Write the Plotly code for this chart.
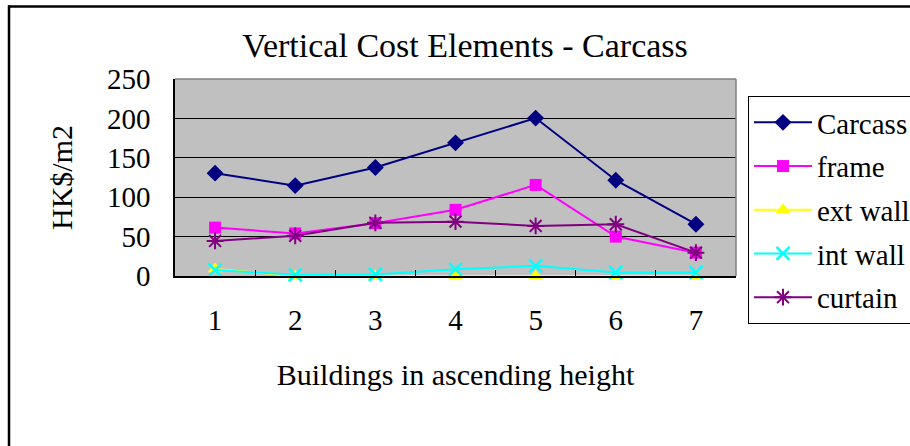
import plotly.graph_objects as go

# =====================================================================
# Data
buildings = [1, 2, 3, 4, 5, 6, 7]
carcass = [130.5, 114.7, 137.6, 169, 200.4, 121.6, 65.7]
frame = [61.4, 54, 67, 84, 115.6, 50, 29.6]
ext_wall = [9, 0, 0, 0, 0, 0, 0]
int_wall = [7.6, 1.5, 2, 8.5, 13, 4.6, 4.6]
curtain = [44.5, 51, 67.5, 69, 63.5, 65.7, 29.6]
y_ticks = [0, 50, 100, 150, 200, 250]

FONT = "Liberation Serif"

series = [
    ("Carcass", carcass, "#000080", "diamond", 13, None),
    ("frame", frame, "#FF00FF", "square", 12, None),
    ("ext wall", ext_wall, "#FFFF00", "triangle-up", 13, None),
    ("int wall", int_wall, "#00FFFF", "x-thin-open", 13, 2.5),
    ("curtain", curtain, "#800080", "asterisk-open", 14, 2),
]

fig = go.Figure()
for name, vals, col, sym, size, lw in series:
    marker = dict(symbol=sym, size=size, color=col)
    if lw:
        marker["line"] = dict(color=col, width=lw)
    fig.add_trace(go.Scatter(
        x=buildings, y=vals, name=name, mode="lines+markers",
        line=dict(color=col, width=2), marker=marker,
        legendgroup=name, cliponaxis=False,
    ))

# layout in screen pixels (plot area 175..736 x 79..276)
W, H = 910, 446
L, T = 175, 79
R = W - 736
B = H - 276
PW, PH = W - L - R, H - T - B

def px_x(p):
    return (p - L) / PW

def px_y(p):
    return (H - B - p) / PH

fig.update_layout(
    width=W, height=H,
    margin=dict(l=L, r=R, t=T, b=B, autoexpand=False),
    paper_bgcolor="white",
    plot_bgcolor="#C0C0C0",
    font=dict(family=FONT, size=29, color="black"),
    title=dict(text="Vertical Cost Elements - Carcass", x=465 / W,
               xanchor="center", y=1 - 45 / H, yanchor="middle",
               font=dict(family=FONT, size=34)),
    xaxis=dict(
        range=[0.5, 7.5], tickvals=buildings, ticktext=[str(b) for b in buildings],
        showgrid=False, zeroline=False, showline=True, linecolor="black", linewidth=1.5,
        ticks="", ticklabelstandoff=17,
        minor=dict(tickvals=[1.5, 2.5, 3.5, 4.5, 5.5, 6.5], ticks="inside", ticklen=6,
                   tickcolor="black", showgrid=False),
        title=dict(text="Buildings in ascending height", standoff=29,
                   font=dict(family=FONT, size=30)),
    ),
    yaxis=dict(
        range=[0, 250], tickvals=y_ticks, showgrid=True, gridcolor="black", gridwidth=1,
        zeroline=False, showline=True, linecolor="black", linewidth=1.5,
        ticks="inside", ticklen=8, tickcolor="black", ticklabelstandoff=17,
        title=dict(text="HK$/m2", standoff=25, font=dict(family=FONT, size=30)),
    ),
    legend=dict(
        x=px_x(748), y=px_y(96), xanchor="left", yanchor="top",
        bgcolor="white", bordercolor="black", borderwidth=1,
        font=dict(family=FONT, size=29), tracegroupgap=3, itemwidth=58,
        maxheight=400,
    ),
    shapes=[
        # gray plot-area border on top and right
        dict(type="line", xref="paper", yref="paper", x0=0, x1=1, y0=1, y1=1,
             line=dict(color="#808080", width=1.5)),
        dict(type="line", xref="paper", yref="paper", x0=1, x1=1, y0=0, y1=1,
             line=dict(color="#808080", width=1.5)),
        # chart-area frame (left and top edges; the rest is off-window)
        dict(type="line", xref="paper", yref="paper", x0=px_x(9), x1=px_x(9),
             y0=px_y(450), y1=px_y(5.5), line=dict(color="black", width=2.5)),
        dict(type="line", xref="paper", yref="paper", x0=px_x(8), x1=px_x(915),
             y0=px_y(6.5), y1=px_y(6.5), line=dict(color="black", width=2.5)),
    ],
)

# drop the default page margin so the figure sits at the window origin
fig.write_html("out.html", config={"displayModeBar": False},
               post_script="document.body.style.margin='0';")
